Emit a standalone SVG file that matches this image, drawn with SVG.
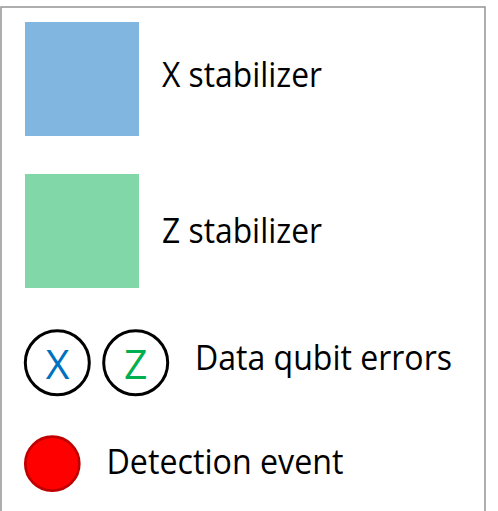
<svg xmlns="http://www.w3.org/2000/svg" width="498" height="511" viewBox="0 0 498 511">
  <style>
    .lbl { font-family: "Open Sans", "Noto Sans", "Liberation Sans", sans-serif; font-size: 34px; fill: #000; }
    .err { font-family: "Open Sans", "Noto Sans", "Liberation Sans", sans-serif; font-size: 41px; text-anchor: middle; }
    .ring { fill: #fff; stroke: #000; stroke-width: 3; }
  </style>
  <rect x="0" y="0" width="498" height="511" fill="#fff"/>
  <rect id="frame" x="1" y="7" width="484" height="530" fill="none" stroke="#9a9a9a" stroke-width="1.6"/>
  <g id="x-stabilizer">
    <rect x="25" y="22" width="114" height="114" fill="#80b6df"/>
    <text class="lbl" x="162" y="87" textLength="160" lengthAdjust="spacingAndGlyphs">X stabilizer</text>
  </g>
  <g id="z-stabilizer">
    <rect x="25" y="174" width="114" height="114" fill="#82d7a8"/>
    <text class="lbl" x="162" y="243" textLength="160" lengthAdjust="spacingAndGlyphs">Z stabilizer</text>
  </g>
  <g id="data-qubit-errors">
    <circle class="ring" cx="57.3" cy="362.7" r="32"/>
    <text class="err" x="57.5" y="378.5" fill="#0070c0">X</text>
    <circle class="ring" cx="135.7" cy="362.7" r="32"/>
    <text class="err" x="135.7" y="378.5" fill="#00b050">Z</text>
    <text class="lbl" x="195" y="369.5" textLength="257" lengthAdjust="spacingAndGlyphs">Data qubit errors</text>
  </g>
  <g id="detection-event">
    <circle cx="52.3" cy="463.7" r="27" fill="#ff0000" stroke="#c00000" stroke-width="2.7"/>
    <text class="lbl" x="106.5" y="474.3" textLength="237" lengthAdjust="spacingAndGlyphs">Detection event</text>
  </g>
  <g id="connectors"/>
</svg>
